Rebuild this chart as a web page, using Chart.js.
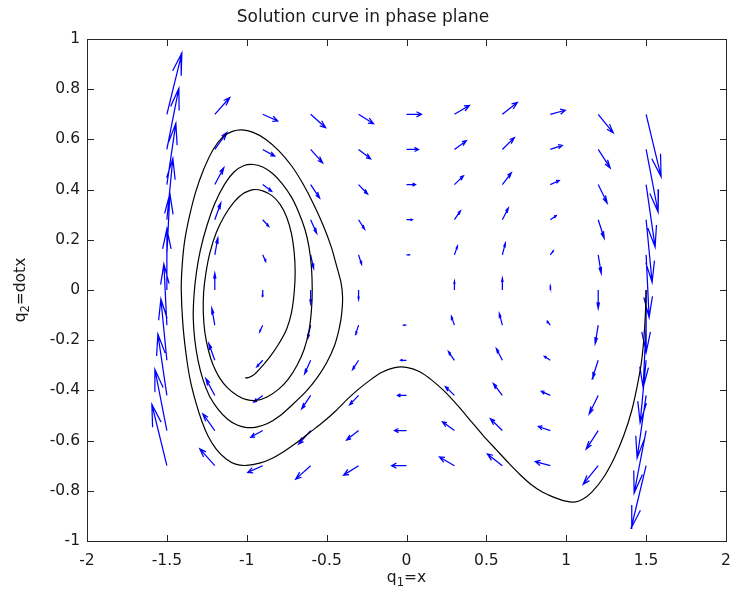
<!DOCTYPE html>
<html>
<head>
<meta charset="utf-8">
<title>Solution curve in phase plane</title>
<script src="https://cdn.jsdelivr.net/npm/chart.js@4.4.1/dist/chart.umd.min.js"></script>
<style>
    html, body { margin: 0; padding: 0; background: #fff; }
    #chart { display: block; }
</style>
</head>
<body>
<canvas id="chart" width="731" height="602"></canvas>
<script>
// axis ticks
const xTicks = [-2, -1.5, -1, -0.5, 0, 0.5, 1, 1.5, 2];
const yTicks = [-1, -0.8, -0.6, -0.4, -0.2, 0, 0.2, 0.4, 0.6, 0.8, 1];

// quiver grid (q1 columns, q2 rows)
const gridQ1 = [-1.5, -1.2, -0.9, -0.6, -0.3, 0, 0.3, 0.6, 0.9, 1.2, 1.5];
const gridQ2 = [0.7, 0.56, 0.42, 0.28, 0.14, 0, -0.14, -0.28, -0.42, -0.56, -0.7];
// horizontal arrow component for each row, vertical component for each column
const rowU = [0.7, 0.56, 0.42, 0.28, 0.14, 0, -0.14, -0.28, -0.42, -0.56, -0.7];
const colV = [1.82, 0.5, -0.2, -0.4, -0.28, 0, 0.26, 0.35, 0.12, -0.55, -1.86];

// solution curve (starts at the right, spirals into the left well)
const curveQ1 = [1.50, 1.495, 1.485, 1.47, 1.445, 1.41, 1.36, 1.30, 1.23, 1.16, 1.10, 1.05, 0.99, 0.92,
    0.85, 0.78, 0.71, 0.64, 0.56, 0.48, 0.40, 0.32, 0.24, 0.16, 0.08, 0.0, -0.08, -0.16, -0.23, -0.30,
    -0.37, -0.44, -0.52, -0.60, -0.68, -0.76, -0.84, -0.92, -1.0, -1.07, -1.131, -1.19, -1.24, -1.28,
    -1.32, -1.355, -1.38, -1.40, -1.41, -1.405, -1.39, -1.36, -1.32, -1.27, -1.21, -1.15, -1.09, -1.03,
    -0.96, -0.88, -0.80, -0.72, -0.65, -0.58, -0.52, -0.47, -0.435, -0.41, -0.40, -0.405, -0.42, -0.45,
    -0.50, -0.56, -0.63, -0.711, -0.79, -0.87, -0.94, -1.0, -1.06, -1.12, -1.18, -1.235, -1.275, -1.305,
    -1.325, -1.335, -1.33, -1.315, -1.29, -1.25, -1.20, -1.14, -1.08, -1.02, -0.96, -0.90, -0.84, -0.78,
    -0.72, -0.675, -0.635, -0.61, -0.595, -0.59, -0.595, -0.61, -0.64, -0.685, -0.74, -0.80, -0.87, -0.94,
    -1.0, -1.06, -1.12, -1.17, -1.21, -1.24, -1.262, -1.272, -1.27, -1.255, -1.23, -1.19, -1.14, -1.08,
    -1.02, -0.96, -0.90, -0.84, -0.79, -0.75, -0.72, -0.703, -0.697, -0.703, -0.72, -0.75, -0.80, -0.86,
    -0.92, -0.96, -0.99, -1.01];
const curveQ2 = [0.00, -0.10, -0.20, -0.29, -0.38, -0.48, -0.58, -0.67, -0.75, -0.805, -0.835, -0.845,
    -0.84, -0.825, -0.805, -0.775, -0.735, -0.69, -0.635, -0.58, -0.52, -0.46, -0.405, -0.36, -0.325,
    -0.308, -0.31, -0.33, -0.36, -0.395, -0.435, -0.48, -0.525, -0.565, -0.605, -0.64, -0.67, -0.69, -0.699,
    -0.694, -0.672, -0.635, -0.585, -0.525, -0.445, -0.355, -0.255, -0.135, 0.0, 0.09, 0.19, 0.29, 0.39,
    0.48, 0.56, 0.61, 0.632, 0.638, 0.628, 0.60, 0.555, 0.495, 0.425, 0.34, 0.255, 0.17, 0.09, 0.03,
    -0.03, -0.09, -0.15, -0.22, -0.29, -0.35, -0.405, -0.455, -0.50, -0.532, -0.546, -0.548, -0.538,
    -0.515, -0.475, -0.42, -0.355, -0.28, -0.20, -0.11, -0.02, 0.07, 0.16, 0.255, 0.345, 0.42, 0.47,
    0.495, 0.50, 0.49, 0.465, 0.425, 0.37, 0.31, 0.24, 0.17, 0.09, 0.0, -0.08, -0.16, -0.235, -0.30,
    -0.355, -0.395, -0.425, -0.44, -0.437, -0.42, -0.39, -0.35, -0.30, -0.24, -0.17, -0.09, -0.01, 0.07,
    0.15, 0.23, 0.295, 0.35, 0.385, 0.40, 0.395, 0.375, 0.34, 0.29, 0.225, 0.15, 0.07, -0.01, -0.09,
    -0.155, -0.215, -0.27, -0.315, -0.34, -0.349, -0.35];

const FONT = 'DejaVu Sans, Verdana, sans-serif';
const TEXT = '#1a1a1a';

// arrows as line pieces (shaft + two head strokes), split with null points
function quiverPoints() {
    const s = 0.134, alpha = 0.33, beta = 0.33;
    const pts = [];
    gridQ2.forEach((y, j) => {
        gridQ1.forEach((x, i) => {
            const u = rowU[j] * s;
            const v = colV[i] * s;
            if (u === 0 && v === 0) return;
            const tx = x + u, ty = y + v;
            pts.push({ x: x, y: y }, { x: tx, y: ty }, { x: null, y: null });
            pts.push(
                { x: tx - alpha * (u + beta * v), y: ty - alpha * (v - beta * u) },
                { x: tx, y: ty },
                { x: tx - alpha * (u - beta * v), y: ty - alpha * (v + beta * u) },
                { x: null, y: null }
            );
        });
    });
    return pts;
}

// label with a subscript part, e.g. q_1=x
function drawSubText(ctx, parts, cx, baseline) {
    const big = '15.5px ' + FONT, small = '11.5px ' + FONT;
    let total = 0;
    parts.forEach(p => { ctx.font = p.sub ? small : big; total += ctx.measureText(p.t).width; });
    let x = cx - total / 2;
    ctx.textAlign = 'left';
    ctx.textBaseline = 'alphabetic';
    parts.forEach(p => {
        ctx.font = p.sub ? small : big;
        ctx.fillText(p.t, x, baseline + (p.sub ? 4 : 0));
        x += ctx.measureText(p.t).width;
    });
}

const matlabAxes = {
    id: 'matlabAxes',
    afterDraw(chart) {
        const { ctx, chartArea: a, scales } = chart;
        const tl = 6;
        ctx.save();
        ctx.strokeStyle = '#262626';
        ctx.lineWidth = 1;
        ctx.strokeRect(a.left + 0.5, a.top + 0.5, a.right - a.left, a.bottom - a.top);
        ctx.beginPath();
        xTicks.forEach(v => {
            const px = Math.round(scales.x.getPixelForValue(v)) + 0.5;
            ctx.moveTo(px, a.bottom); ctx.lineTo(px, a.bottom - tl);
            ctx.moveTo(px, a.top + 1); ctx.lineTo(px, a.top + 1 + tl);
        });
        yTicks.forEach(v => {
            const py = Math.round(scales.y.getPixelForValue(v)) + 0.5;
            ctx.moveTo(a.left + 1, py); ctx.lineTo(a.left + 1 + tl, py);
            ctx.moveTo(a.right, py); ctx.lineTo(a.right - tl, py);
        });
        ctx.stroke();

        ctx.fillStyle = TEXT;
        drawSubText(ctx, [{ t: 'q' }, { t: '1', sub: true }, { t: '=x' }], (a.left + a.right) / 2, 582);
        ctx.translate(25, (a.top + a.bottom) / 2);
        ctx.rotate(-Math.PI / 2);
        drawSubText(ctx, [{ t: 'q' }, { t: '2', sub: true }, { t: '=dotx' }], 0, 0);
        ctx.restore();
    }
};

const fmt = v => String(Math.round(v * 10) / 10);

new Chart(document.getElementById('chart'), {
    type: 'scatter',
    data: {
        datasets: [
            {
                label: 'curve',
                data: curveQ1.map((q, i) => ({ x: q, y: curveQ2[i] })),
                showLine: true,
                borderColor: '#000000',
                borderWidth: 1.2,
                pointRadius: 0,
                tension: 0.2,
                fill: false
            },
            {
                label: 'field',
                data: quiverPoints(),
                showLine: true,
                spanGaps: false,
                borderColor: '#0000ff',
                borderWidth: 1.25,
                pointRadius: 0,
                tension: 0,
                fill: false
            }
        ]
    },
    options: {
        responsive: false,
        animation: false,
        devicePixelRatio: 1,
        layout: { padding: { left: 0, right: 5, top: 0, bottom: 0 } },
        plugins: {
            legend: { display: false },
            tooltip: { enabled: false },
            title: {
                display: true,
                text: 'Solution curve in phase plane',
                color: TEXT,
                font: { family: FONT, size: 17, weight: 'normal' },
                padding: { top: 7, bottom: 11.6 }
            }
        },
        scales: {
            x: {
                type: 'linear',
                min: -2,
                max: 2,
                afterBuildTicks: scale => { scale.ticks = xTicks.map(v => ({ value: v })); },
                afterFit: scale => {
                    scale.height = 61;
                    scale.paddingLeft = 0;
                    scale.paddingRight = 0;
                },
                grid: { display: false, drawTicks: false },
                border: { display: false },
                ticks: {
                    callback: fmt,
                    color: TEXT,
                    font: { family: FONT, size: 15.5 },
                    padding: 11,
                    maxRotation: 0,
                    autoSkip: false
                }
            },
            y: {
                type: 'linear',
                min: -1,
                max: 1,
                afterBuildTicks: scale => { scale.ticks = yTicks.map(v => ({ value: v })); },
                afterFit: scale => {
                    scale.width = 87;
                    scale.paddingTop = 0;
                    scale.paddingBottom = 0;
                },
                grid: { display: false, drawTicks: false },
                border: { display: false },
                ticks: {
                    callback: fmt,
                    color: TEXT,
                    font: { family: FONT, size: 15.5 },
                    padding: 7,
                    autoSkip: false
                }
            }
        }
    },
    plugins: [matlabAxes]
});
</script>
</body>
</html>
